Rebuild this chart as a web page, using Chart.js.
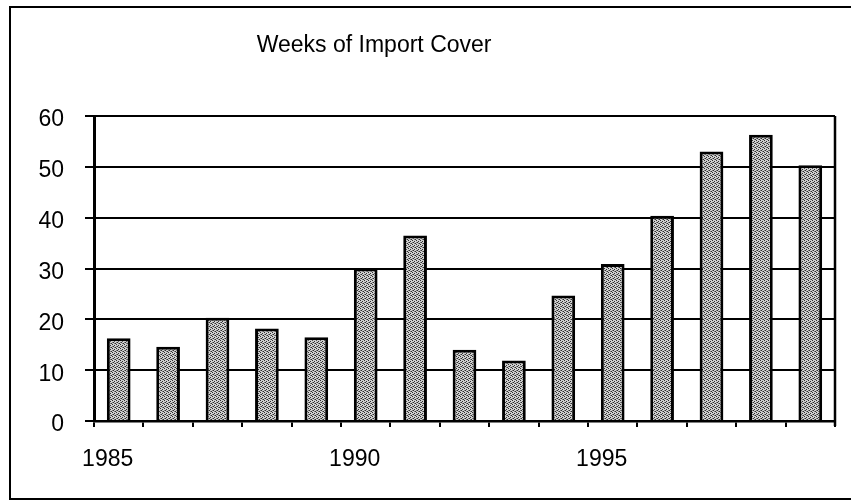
<!DOCTYPE html>
<html>
<head>
<meta charset="utf-8">
<script src="https://cdn.jsdelivr.net/npm/chart.js@4"></script>
<style>
  body { margin: 0; background: #fff; }
</style>
</head>
<body>
<canvas id="chart-import" width="851" height="500"></canvas>
<script>
const chartTitle = 'Weeks of Import Cover';
const years = ['1985', '1986', '1987', '1988', '1989', '1990', '1991', '1992', '1993', '1994', '1995', '1996', '1997', '1998', '1999'];
const weeksCover = [16.3, 14.6, 20.3, 18.2, 16.5, 30.0, 36.5, 14.0, 11.9, 24.7, 30.9, 40.4, 53.0, 56.3, 50.3];
const yTicks = [0, 10, 20, 30, 40, 50, 60];

const ctxImport = document.getElementById('chart-import');

// stippled grey fill like the old printed chart
const patternCanvas = document.createElement('canvas');
patternCanvas.width = 4;
patternCanvas.height = 4;
const pctx = patternCanvas.getContext('2d');
pctx.fillStyle = '#cfcfcf';
pctx.fillRect(0, 0, 4, 4);
pctx.fillStyle = '#2e2e2e';
pctx.fillRect(0, 0, 1, 1);
pctx.fillRect(2, 1, 1, 1);
pctx.fillRect(1, 2, 1, 1);
pctx.fillRect(3, 3, 1, 1);
pctx.fillStyle = '#7a7a7a';
pctx.fillRect(2, 3, 1, 1);
pctx.fillRect(0, 2, 1, 1);
const barPattern = pctx.createPattern(patternCanvas, 'repeat');

const FONT = "'Liberation Sans', Arial, sans-serif";

const frame = {
  id: 'frame',
  beforeDraw(chart) {
    const { ctx, width, height } = chart;
    ctx.save();
    ctx.fillStyle = '#fff';
    ctx.fillRect(0, 0, width, height);
    ctx.restore();
  },
  afterDraw(chart) {
    const { ctx, chartArea: { top, bottom, left, right, width } } = chart;
    ctx.save();
    // outer box
    ctx.strokeStyle = '#000';
    ctx.lineWidth = 2;
    ctx.strokeRect(10, 7, 900, 492);
    // right edge of plot
    ctx.lineWidth = 2.5;
    ctx.beginPath();
    ctx.moveTo(right, top);
    ctx.lineTo(right, bottom + 5);
    ctx.stroke();
    // title
    ctx.font = `23px ${FONT}`;
    ctx.fillStyle = '#000';
    ctx.textAlign = 'center';
    ctx.textBaseline = 'middle';
    ctx.fillText(chartTitle, left + width * 0.378, 46);
    ctx.restore();
  }
};

new Chart(ctxImport, {
  type: 'bar',
  data: {
    labels: years,
    datasets: [{
      label: chartTitle,
      data: weeksCover,
      backgroundColor: barPattern,
      borderColor: '#000',
      borderWidth: 3,
      borderSkipped: 'bottom',
      barPercentage: 0.48,
      categoryPercentage: 1.0
    }]
  },
  options: {
    responsive: false,
    animation: false,
    layout: {
      padding: { top: 116, right: 16, bottom: 0, left: 0 }
    },
    plugins: {
      legend: { display: false },
      tooltip: { enabled: false }
    },
    scales: {
      x: {
        afterFit(scale) { scale.height = 79; },
        grid: {
          offset: true,
          drawOnChartArea: false,
          drawTicks: true,
          tickLength: 6,
          color: '#000',
          lineWidth: 2
        },
        border: { display: true, color: '#000', width: 2.5 },
        ticks: {
          autoSkip: false,
          maxRotation: 0,
          padding: 19,
          labelOffset: -11,
          color: '#000',
          font: { family: FONT, size: 23 },
          callback: (val, index) => (index % 5 === 0 ? years[index] : '')
        }
      },
      y: {
        min: yTicks[0],
        max: yTicks[yTicks.length - 1],
        afterFit(scale) { scale.width = 94; },
        afterBuildTicks(scale) { scale.ticks = yTicks.map(v => ({ value: v })); },
        grid: {
          color: '#000',
          lineWidth: 2,
          tickLength: 9
        },
        border: { display: true, color: '#000', width: 3 },
        ticks: {
          padding: 21,
          labelOffset: 4,
          color: '#000',
          font: { family: FONT, size: 23 }
        }
      }
    }
  },
  plugins: [frame]
});
</script>
</body>
</html>
